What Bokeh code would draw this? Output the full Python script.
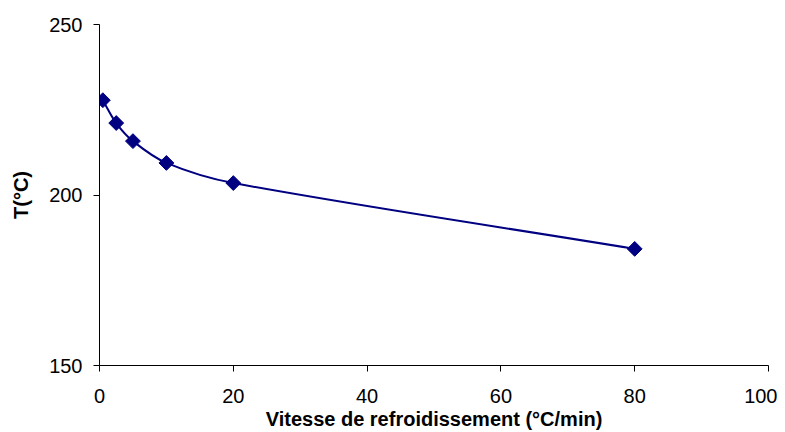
import math
from bokeh.plotting import figure
from bokeh.models import Range1d, FixedTicker
from bokeh.embed import file_html
from bokeh.resources import INLINE

# data
vitesse = [0.5, 2.5, 5, 10, 20, 80]
temperature = [227.8, 221.1, 215.8, 209.4, 203.5, 184.2]
x_ticks = [0, 20, 40, 60, 80, 100]
y_ticks = [150, 200, 250]

NAVY = "#000080"
X0, X1, Y0, Y1 = 0, 100, 150, 250
FRAME_W, FRAME_H = 669, 342

p = figure(width=777, height=432, output_backend="svg", toolbar_location=None,
           x_range=Range1d(X0, X1), y_range=Range1d(Y0, Y1),
           min_border_left=99, min_border_right=9, min_border_top=24, min_border_bottom=66)
p.outline_line_color = None
p.xgrid.visible = False
p.ygrid.visible = False

# smoothed line: cubic Bezier segments whose handles follow the neighbour
# direction, with a length of one third of each segment (computed in screen proportions)
sx = FRAME_W / (X1 - X0)
sy = FRAME_H / (Y1 - Y0)
pts = [(x * sx, y * sy) for x, y in zip(vitesse, temperature)]
n = len(pts)

def unit_tangent(i):
    a = pts[i - 1] if i > 0 else pts[i]
    b = pts[i + 1] if i < n - 1 else pts[i]
    dx, dy = b[0] - a[0], b[1] - a[1]
    L = math.hypot(dx, dy) or 1.0
    return dx / L, dy / L

x0s, y0s, x1s, y1s, cx0, cy0, cx1, cy1 = [], [], [], [], [], [], [], []
for i in range(n - 1):
    (xa, ya), (xb, yb) = pts[i], pts[i + 1]
    d = math.hypot(xb - xa, yb - ya) / 3
    ta, tb = unit_tangent(i), unit_tangent(i + 1)
    x0s.append(vitesse[i]); y0s.append(temperature[i])
    x1s.append(vitesse[i + 1]); y1s.append(temperature[i + 1])
    cx0.append((xa + ta[0] * d) / sx); cy0.append((ya + ta[1] * d) / sy)
    cx1.append((xb - tb[0] * d) / sx); cy1.append((yb - tb[1] * d) / sy)
p.bezier(x0=x0s, y0=y0s, x1=x1s, y1=y1s, cx0=cx0, cy0=cy0, cx1=cx1, cy1=cy1,
         line_color=NAVY, line_width=2)

p.scatter(vitesse, temperature, marker="square", size=10.5, angle=math.pi / 4,
          fill_color=NAVY, line_color=NAVY)

for ax in (p.xaxis[0], p.yaxis[0]):
    ax.axis_line_color = "#000000"
    ax.major_tick_line_color = "#000000"
    ax.minor_tick_line_color = None
    ax.major_tick_out = 6
    ax.major_tick_in = 0
    ax.major_label_text_font = "Liberation Sans"
    ax.major_label_text_font_size = "20px"
    ax.major_label_text_color = "#000000"
    ax.axis_label_text_font = "Liberation Sans"
    ax.axis_label_text_font_style = "bold"
    ax.axis_label_text_font_size = "20px"
    ax.axis_label_text_color = "#000000"

p.xaxis.ticker = FixedTicker(ticks=x_ticks)
p.yaxis.ticker = FixedTicker(ticks=y_ticks)
p.xaxis.axis_label = "Vitesse de refroidissement (°C/min)"
p.yaxis.axis_label = "T(°C)"
p.xaxis.major_label_standoff = 17
p.xaxis.axis_label_standoff = 2
p.yaxis.major_label_standoff = 11
p.yaxis.axis_label_standoff = 14

open("out.html", "w").write(file_html(p, INLINE))
